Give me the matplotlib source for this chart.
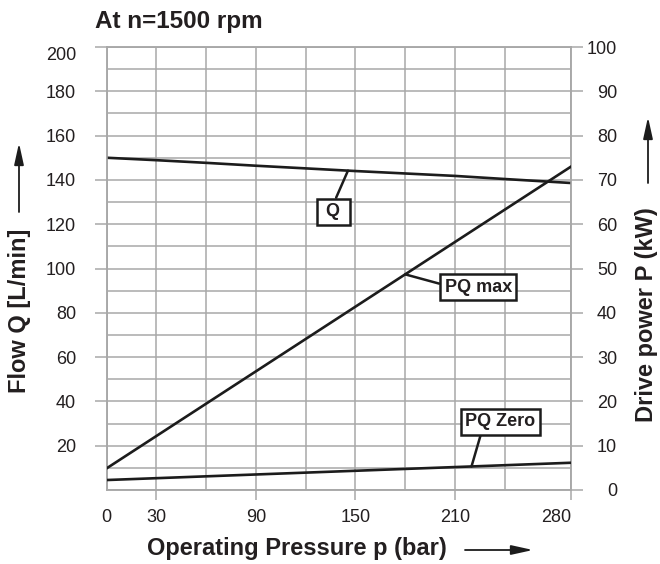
import numpy as np
import matplotlib
matplotlib.use('Agg')
import matplotlib.pyplot as plt
from matplotlib.patches import FancyArrowPatch

plt.rcParams['font.family'] = ['Liberation Sans', 'DejaVu Sans']

# data
pressure = [0, 30, 60, 90, 120, 150, 180, 210, 240, 280]          # bar
flow_q = [150, 148.9, 147.7, 146.4, 145.2, 144.0, 142.9, 141.8, 140.4, 138.6]  # L/min
p_line = [0, 280]
pq_max = [4.9, 73.0]    # kW
pq_zero = [2.25, 6.15]  # kW

x_grid = [0, 30, 60, 90, 120, 150, 180, 210, 240, 280]
x_ticks = [0, 30, 90, 150, 210, 280]
q_ticks = list(range(20, 201, 20))
kw_ticks = list(range(0, 101, 10))

W, H = 660, 564
grid_c = '#a8a8a8'
ink = '#1c1c1c'
txt_c = '#231f20'


def fx(px):
    return px / W


def fy(py):
    return 1 - py / H


fig = plt.figure(figsize=(6.6, 5.64), dpi=100)
ax = fig.add_axes([fx(106.7), fy(490), fx(571) - fx(106.7), fy(47) - fy(490)])
ax2 = ax.twinx()

ax.set_xlim(0, 280)
ax.set_ylim(0, 200)
ax2.set_ylim(0, 100)

# grid
ax.xaxis.remove_overlapping_locs = False
ax.yaxis.remove_overlapping_locs = False
ax.set_xticks(x_grid, minor=True)
ax.set_yticks(range(0, 201, 10), minor=True)
ax.grid(which='minor', color=grid_c, lw=1.1)
ax.tick_params(which='minor', length=0)
ax.set_axisbelow(True)
for a in (ax, ax2):
    for s in a.spines.values():
        s.set_color(grid_c)
        s.set_linewidth(1.1)

ax.set_xticks(x_ticks)
ax.set_yticks(q_ticks)
ax2.set_yticks(kw_ticks)
ax.tick_params(axis='x', which='major', length=7.5, width=1.1, color=grid_c,
               labelsize=13, labelcolor=txt_c, pad=6)
ax.tick_params(axis='y', which='major', length=8.6, width=1.1, color=grid_c,
               labelsize=13, labelcolor=txt_c, pad=13.5)
ax2.tick_params(axis='y', which='major', length=8.6, width=1.1, color=grid_c,
                labelsize=13, labelcolor=txt_c, pad=24.5)
ax.xaxis.get_major_ticks()[0].tick1line.set_visible(False)
ax.get_xticklabels()[-1].set_ha('right')
for lbl in ax2.get_yticklabels():
    lbl.set_ha('right')
ax.get_yticklabels()[-1].set_va('top')

# curves
ax.plot(pressure, flow_q, color=ink, lw=1.9, zorder=3)
ax2.plot(p_line, pq_max, color=ink, lw=1.9, zorder=3)
ax2.plot(p_line, pq_zero, color=ink, lw=1.9, zorder=3)

box = dict(boxstyle='square,pad=0.25', fc='white', ec=ink, lw=1.8)
lead = dict(arrowstyle='-', color=ink, lw=1.8, shrinkA=0, shrinkB=0)

ax.annotate(' Q ', xy=(145.5, np.interp(145.5, pressure, flow_q)), xytext=(136.5, 125.7),
            ha='center', va='center', fontsize=13, weight='bold', color=txt_c,
            bbox=box, arrowprops=dict(lead, relpos=(0.53, 1.0)), zorder=5)
ax2.annotate('PQ max', xy=(180, np.interp(180, p_line, pq_max)), xytext=(224, 45.8),
             ha='center', va='center', fontsize=13, weight='bold', color=txt_c,
             bbox=box, arrowprops=dict(lead, relpos=(0.0, 0.62)), zorder=5)
ax2.annotate('PQ Zero', xy=(220, np.interp(220, p_line, pq_zero)), xytext=(237.3, 15.35),
             ha='center', va='center', fontsize=13, weight='bold', color=txt_c,
             bbox=box, arrowprops=dict(lead, relpos=(0.24, 0.0)), zorder=5)

# titles and axis labels
fig.text(fx(95), fy(21.5), 'At n=1500 rpm', ha='left', va='center',
         fontsize=17.5, weight='bold', color=txt_c)
fig.text(fx(19.5), fy(310.5), 'Flow Q [L/min]', rotation=90, ha='center', va='center',
         fontsize=17, weight='bold', color=txt_c)
fig.text(fx(646), fy(315), 'Drive power P (kW)', rotation=90, ha='center', va='center',
         fontsize=17, weight='bold', color=txt_c)
fig.text(fx(296.5), fy(548), 'Operating Pressure p (bar)', ha='center', va='center',
         fontsize=17, weight='bold', color=txt_c)

for start, end in [((19, 212), (19, 143)), ((648, 183), (648, 117)), ((465, 550), (533, 550))]:
    fig.add_artist(FancyArrowPatch((fx(start[0]), fy(start[1])), (fx(end[0]), fy(end[1])),
                                   transform=fig.transFigure,
                                   arrowstyle='-|>,head_length=1.0,head_width=0.22',
                                   mutation_scale=13, color=ink, lw=1.3,
                                   shrinkA=0, shrinkB=0))

fig.savefig('out.png', dpi=100)
